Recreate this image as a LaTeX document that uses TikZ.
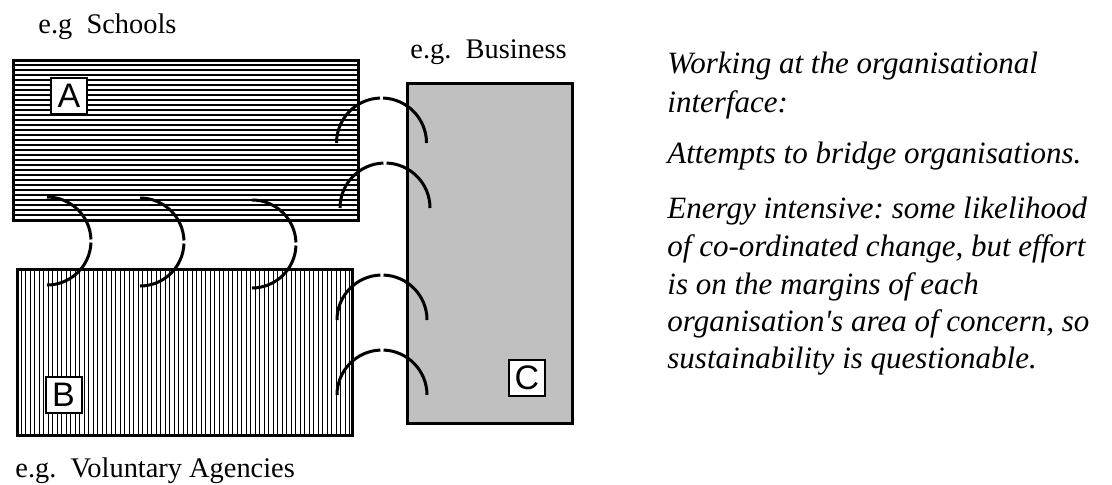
\documentclass[tikz,border=0pt]{standalone}
\usepackage{fontspec}
\setmainfont{Liberation Serif}
\newfontfamily\labelfont{Liberation Sans}
\usepackage{tikz}
\definecolor{cgrey}{RGB}{192, 192, 192}
\frenchspacing

\begin{document}
\begin{tikzpicture}[scale=0.5,
  every node/.style={inner sep=0pt},
  orgbox/.style={line width=1.5pt, draw=black},
  hatch/.style={line width=0.8pt, color=black},
  vhatch/.style={line width=0.5pt, color=black},
  bridge/.style={line width=1.5pt, color=black},
  tag/.style={draw=black, fill=white, line width=1pt, minimum size=18pt, font=\labelfont\fontsize{17}{17}\selectfont},
  eg/.style={anchor=base west, font=\fontsize{14.2}{16}\selectfont},
  note/.style={anchor=base west, font=\itshape\fontsize{15.5}{18}\selectfont}]
\useasboundingbox (0pt, 0pt) rectangle (1112pt, -484pt);
% organisations
\foreach \y in {65,70,...,215}
  \draw [hatch] (13pt, -\y pt) -- (358pt, -\y pt);
\draw [orgbox] (13pt, -60pt) rectangle (358pt, -220pt);
\foreach \x in {21,25.5,...,350}
  \draw [vhatch] (\x pt, -269pt) -- (\x pt, -435pt);
\draw [orgbox] (17pt, -269pt) rectangle (352pt, -435pt);
\draw [orgbox, fill=cgrey] (407pt, -83pt) rectangle (572pt, -423pt);
% bridges between A and B
\foreach \cx/\cy in {47/241, 140/242, 252/244} {
  \draw [bridge] (\cx pt, -\cy pt) ++(90:44pt) arc [start angle=90, end angle=2, radius=44pt];
  \draw [bridge] (\cx pt, -\cy pt) ++(-2:44pt) arc [start angle=-2, end angle=-90, radius=44pt];
}
% bridges to C
\foreach \cx/\cy in {381.5/143, 385/208, 382/320, 382/395} {
  \draw [bridge] (\cx pt, -\cy pt) ++(180:45pt) arc [start angle=180, end angle=92, radius=45pt];
  \draw [bridge] (\cx pt, -\cy pt) ++(88:45pt) arc [start angle=88, end angle=0, radius=45pt];
}
\node (tagA) [tag] at (69pt, -96pt) {A};
\node (tagB) [tag] at (63.5pt, -395pt) {B};
\node (tagC) [tag] at (527pt, -377.5pt) {C};
\node (schools) [eg] at (38pt, -33pt) {e.g\ \ Schools};
\node (business) [eg] at (410pt, -58pt) {e.g.\ \ Business};
\node (agencies) [eg] at (15pt, -477pt) {e.g.\ \ Voluntary Agencies};
% commentary
\node (n1) [note] at (667pt, -73pt) {Working at the organisational};
\node (n2) [note] at (667pt, -112pt) {interface:};
\node (n3) [note] at (667pt, -163pt) {Attempts to bridge organisations.};
\node (n4) [note] at (667pt, -218pt) {Energy intensive: some likelihood};
\node (n5) [note] at (667pt, -256pt) {of co-ordinated change, but effort};
\node (n6) [note] at (667pt, -294pt) {is on the margins of each};
\node (n7) [note] at (667pt, -331pt) {organisation\textquotesingle s area of concern, so};
\node (n8) [note] at (667pt, -368pt) {sustainability is questionable.};
\end{tikzpicture}
\end{document}
